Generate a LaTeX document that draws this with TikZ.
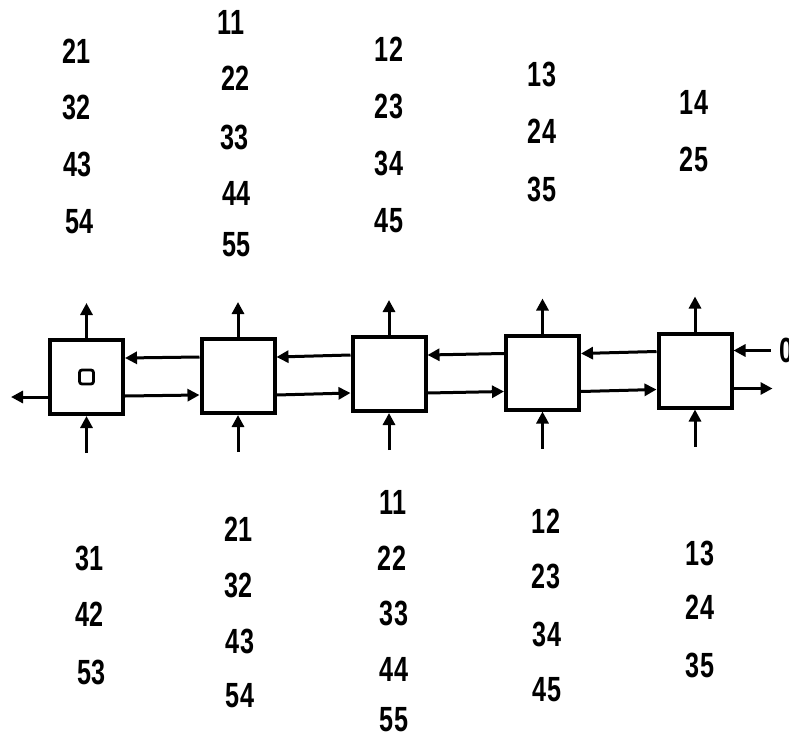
\documentclass[tikz,border=0pt]{standalone}
\usepackage{fontspec}
\newfontfamily\digitfont[FakeStretch=0.72]{Liberation Sans Bold}
\usetikzlibrary{arrows.meta}
\begin{document}
\begin{tikzpicture}[x=1pt,y=-1pt,
  cell/.style={draw,line width=4pt,minimum width=73pt,minimum height=74pt,inner sep=0pt},
  mark box/.style={draw,line width=2.8pt,rounded corners=2.5pt,minimum size=14pt,inner sep=0pt},
  lab/.style={font=\digitfont\fontsize{35}{35}\selectfont,inner sep=0pt},
  flow/.style={line width=3pt,-{Triangle[length=12pt,width=12pt]}}]
\useasboundingbox (0,0) rectangle (789,738);
\clip (0,0) rectangle (789,738);
% cells
\node[cell] (b1) at (86.5,377) {};
\node[cell] (b2) at (238,376) {};
\node[cell] (b3) at (389,374) {};
\node[cell] (b4) at (542.5,372.5) {};
\node[cell] (b5) at (695,370.5) {};
\node[mark box] (sq) at (86.5,377) {};
% vertical arrows
\foreach \i in {1,...,5}{
  \coordinate (t\i) at ([yshift=35pt]b\i.north);
  \coordinate (s\i) at ([yshift=-37pt]b\i.south);
  \draw[flow] (b\i.north) -- (t\i);
  \draw[flow] (s\i) -- (b\i.south);
}
% horizontal arrows between cells
\foreach \a/\b in {1/2,2/3,3/4,4/5}{
  \draw[flow] ([yshift=19pt]b\b.west) -- ([yshift=19pt]b\a.east);
  \draw[flow] ([yshift=-19pt]b\a.east) -- ([yshift=-19pt]b\b.west);
}
% outer arrows
\coordinate (lo) at ([xshift=-37pt,yshift=-20pt]b1.west);
\draw[flow] ([yshift=-20pt]b1.west) -- (lo);
\coordinate (ri) at ([xshift=37pt,yshift=20pt]b5.east);
\draw[flow] (ri) -- ([yshift=20pt]b5.east);
\coordinate (ro) at ([xshift=39pt,yshift=-18pt]b5.east);
\draw[flow] ([yshift=-18pt]b5.east) -- (ro);
\node[lab,anchor=west] (zero) at (779,350) {0};
% top labels
\node[lab] (a21) at (77,51) {21};
\node[lab] (a32) at (77,107) {32};
\node[lab] (a43) at (78,164) {43};
\node[lab] (a54) at (80,222) {54};
\node[lab] (a11) at (231,22) {11};
\node[lab] (a22) at (236,78) {22};
\node[lab] (a33) at (235,137) {33};
\node[lab] (a44) at (237,193) {44};
\node[lab] (a55) at (237,245) {55};
\node[lab] (a12) at (389,49) {12};
\node[lab] (a23) at (389,106) {23};
\node[lab] (a34) at (389,163) {34};
\node[lab] (a45) at (389,221) {45};
\node[lab] (a13) at (542,74) {13};
\node[lab] (a24) at (542,131) {24};
\node[lab] (a35) at (542,189) {35};
\node[lab] (a14) at (694,102) {14};
\node[lab] (a25) at (694,159) {25};
% bottom labels
\node[lab] (c31) at (90,558) {31};
\node[lab] (c42) at (90,614) {42};
\node[lab] (c53) at (92,672) {53};
\node[lab] (c21) at (239,529) {21};
\node[lab] (c32) at (239,585) {32};
\node[lab] (c43) at (240,641) {43};
\node[lab] (c54) at (240,696) {54};
\node[lab] (c11) at (393,502) {11};
\node[lab] (c22) at (392,558) {22};
\node[lab] (c33) at (394,613) {33};
\node[lab] (c44) at (394,669) {44};
\node[lab] (c55) at (394,720) {55};
\node[lab] (c12) at (546,521) {12};
\node[lab] (c23) at (546,576) {23};
\node[lab] (c34) at (547,634) {34};
\node[lab] (c45) at (547,690) {45};
\node[lab] (c13) at (700,553) {13};
\node[lab] (c24) at (700,607) {24};
\node[lab] (c35) at (700,665) {35};
\end{tikzpicture}
\end{document}
